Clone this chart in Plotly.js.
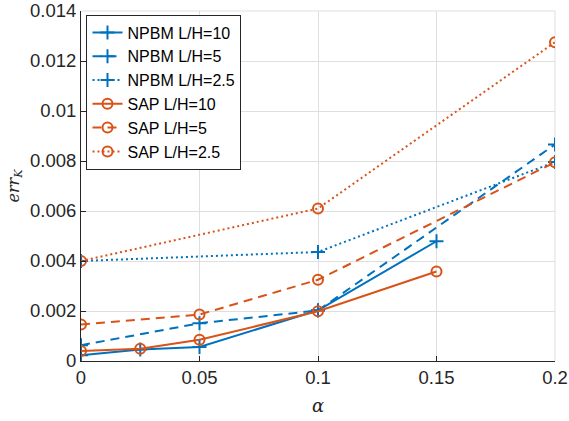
<!DOCTYPE html>
<html>
<head>
<meta charset="utf-8">
<script src="https://cdn.plot.ly/plotly-3.0.1.min.js"></script>
<style>html,body{margin:0;padding:0;background:#fff;}#chart{width:569px;height:421px;}</style>
</head>
<body>
<div id="chart"></div>
<script>
// Data
const alphaA = [0, 0.025, 0.05, 0.1, 0.15];
const alphaB = [0, 0.05, 0.1, 0.2];
const alphaC = [0, 0.1, 0.2];

const npbm10 = [0.00023, 0.00046, 0.00056, 0.00203, 0.00479];
const npbm5  = [0.00063, 0.00151, 0.00202, 0.00866];
const npbm25 = [0.00400, 0.00436, 0.00796];
const sap10  = [0.00040, 0.00049, 0.00085, 0.00199, 0.00358];
const sap5   = [0.00146, 0.00186, 0.00325, 0.00795];
const sap25  = [0.00400, 0.00610, 0.01275];

const names = ["NPBM L/H=10", "NPBM L/H=5", "NPBM L/H=2.5", "SAP L/H=10", "SAP L/H=5", "SAP L/H=2.5"];

const xTickVals = [0, 0.05, 0.1, 0.15, 0.2];
const xTickText = ["0", "0.05", "0.1", "0.15", "0.2"];
const yTickVals = [0, 0.002, 0.004, 0.006, 0.008, 0.01, 0.012, 0.014];
const yTickText = ["0", "0.002", "0.004", "0.006", "0.008", "0.01", "0.012", "0.014"];

const blue = "#0072BD", orange = "#D95319";
const DASH = "9px,6px", DOT = "2px,3px";

function tr(x, y, name, color, dash, symbol) {
  return {
    x: x, y: y, name: name, type: "scatter", mode: "lines+markers",
    line: {color: color, width: 2, dash: dash},
    marker: {symbol: symbol, size: 10,
             color: color, line: {color: color, width: 2}},
    hoverinfo: "skip"
  };
}

const data = [
  tr(alphaA, npbm10, names[0], blue, "solid", "cross-thin-open"),
  tr(alphaB, npbm5,  names[1], blue, DASH,  "cross-thin-open"),
  tr(alphaC, npbm25, names[2], blue, DOT,   "cross-thin-open"),
  tr(alphaA, sap10,  names[3], orange, "solid", "circle-open"),
  tr(alphaB, sap5,   names[4], orange, DASH,  "circle-open"),
  tr(alphaC, sap25,  names[5], orange, DOT,   "circle-open")
];

const tickFont = {family: "Liberation Sans, Arial, sans-serif", size: 18.5, color: "#262626"};

const layout = {
  width: 569, height: 421,
  margin: {l: 80.5, r: 14, t: 11, b: 60.3},
  paper_bgcolor: "#fff", plot_bgcolor: "#fff",
  showlegend: true,
  legend: {
    x: 0.0116, y: 0.99, xanchor: "left", yanchor: "top",
    bgcolor: "#fff", bordercolor: "#262626", borderwidth: 1,
    font: {family: "Liberation Sans, Arial, sans-serif", size: 16, color: "#000"},
    tracegroupgap: 0, itemwidth: 30
  },
  xaxis: {
    range: [0, 0.2], tickvals: xTickVals, ticktext: xTickText,
    showgrid: true, gridcolor: "#dfdfdf", gridwidth: 1, zeroline: false,
    showline: true, linecolor: "#262626", linewidth: 1,
    ticks: "inside", ticklen: 5, tickcolor: "#262626",
    tickfont: tickFont, ticklabeloverflow: "allow",
    title: {text: "<i>α</i>", font: {family: "DejaVu Serif, serif", size: 18, color: "#262626"}, standoff: 12}
  },
  yaxis: {
    range: [0, 0.014], tickvals: yTickVals, ticktext: yTickText,
    showgrid: true, gridcolor: "#dfdfdf", gridwidth: 1, zeroline: false,
    showline: true, linecolor: "#262626", linewidth: 1,
    ticks: "inside", ticklen: 5, tickcolor: "#262626",
    tickfont: tickFont, ticklabeloverflow: "allow",
    title: {text: "<i>err</i><sub><i>K</i></sub>", font: {family: "DejaVu Serif, serif", size: 16, color: "#262626"}, standoff: 6}
  },
  shapes: [
    {type: "line", xref: "paper", yref: "paper", x0: 0, x1: 1, y0: 1, y1: 1, line: {color: "#dfdfdf", width: 1}, layer: "below"},
    {type: "line", xref: "paper", yref: "paper", x0: 1, x1: 1, y0: 0, y1: 1, line: {color: "#dfdfdf", width: 1}, layer: "below"}
  ]
};

Plotly.newPlot("chart", data, layout, {staticPlot: true, displayModeBar: false});
</script>
</body>
</html>
